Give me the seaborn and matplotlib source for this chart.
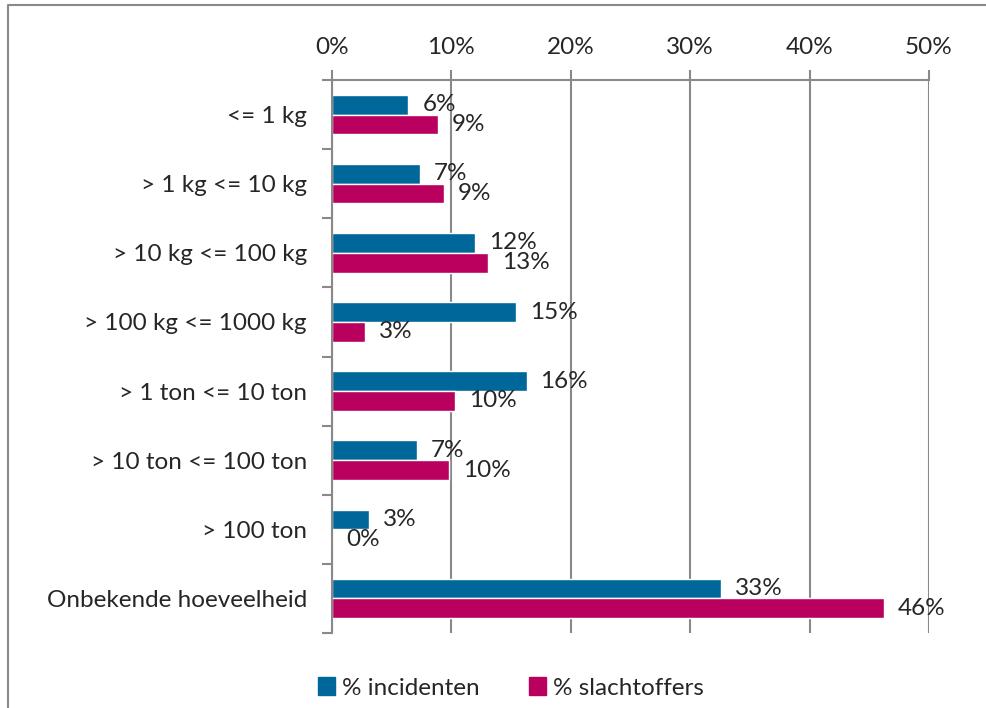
import matplotlib
matplotlib.use("Agg")
import matplotlib.pyplot as plt
from matplotlib.lines import Line2D
import pandas as pd
import seaborn as sns

# categories (top to bottom) and the two series, in percent
categories = ["<= 1 kg", "> 1 kg <= 10 kg", "> 10 kg <= 100 kg", "> 100 kg <= 1000 kg",
              "> 1 ton <= 10 ton", "> 10 ton <= 100 ton", "> 100 ton", "Onbekende hoeveelheid"]
incidenten = [6.4, 7.4, 12.0, 15.4, 16.3, 7.1, 3.1, 32.6]
slachtoffers = [8.9, 9.4, 13.1, 2.8, 10.3, 9.8, 0.0, 46.2]
series = ["% incidenten", "% slachtoffers"]
xticks = [0, 10, 20, 30, 40, 50]
xtick_labels = ["0%", "10%", "20%", "30%", "40%", "50%"]

data = pd.DataFrame({
    "categorie": categories * 2,
    "waarde": incidenten + slachtoffers,
    "reeks": [series[0]] * len(categories) + [series[1]] * len(categories),
})

sns.set_style("white")
plt.rcParams["font.family"] = ["Lato", "DejaVu Sans"]
fs = 17.5

fig = plt.figure(figsize=(9.87, 7.08), dpi=100)
ax = fig.add_axes([332 / 987, 1 - 633 / 708, (929 - 332) / 987, (633 - 80) / 708])

grey = "#898989"
sns.barplot(data=data, x="waarde", y="categorie", hue="reeks", orient="h",
            palette={series[0]: "#00679A", series[1]: "#BA005E"},
            width=0.57, ax=ax, legend=False, saturation=1)

# data labels, rounded
for cont, vals in zip(ax.containers, [incidenten, slachtoffers]):
    ax.bar_label(cont, labels=[f"{v:.0f}%" for v in vals], padding=10, fontsize=fs)

ax.set_xlim(0, 50)
ax.set_ylim(7.5, -0.5)
ax.set_xticks(xticks)
ax.set_xticklabels(xtick_labels, fontsize=fs)
ax.xaxis.tick_top()
ax.tick_params(axis="x", top=True, bottom=False, length=7, width=1.5, color=grey, pad=9)
ax.set_yticks(range(len(categories)))
ax.set_yticklabels(categories, fontsize=fs)
ax.set_yticks([i - 0.5 for i in range(len(categories) + 1)], minor=True)
ax.tick_params(axis="y", which="major", length=0, pad=18)
ax.tick_params(axis="y", which="minor", left=True, length=7, width=1.5, color=grey)
ax.grid(axis="x", color=grey, linewidth=1.5)
ax.set_axisbelow(True)
ax.set_xlabel("")
ax.set_ylabel("")
for side in ["bottom", "right"]:
    ax.spines[side].set_visible(False)
for side in ["top", "left"]:
    ax.spines[side].set_color(grey)
    ax.spines[side].set_linewidth(1.5)

handles = [plt.Rectangle((0, 0), 1, 1, color=c) for c in ["#00679A", "#BA005E"]]
fig.legend(handles, series, loc="center", bbox_to_anchor=(511 / 987, 1 - 688 / 708),
           ncol=2, frameon=False, fontsize=fs, handlelength=0.7, handleheight=0.7,
           handletextpad=0.3, columnspacing=2.0)

# outer chart frame (left and top edges visible)
fig.add_artist(Line2D([8 / 987, 8 / 987, 1.0], [0.0, 1 - 5 / 708, 1 - 5 / 708],
                      transform=fig.transFigure, color=grey, linewidth=1.5))

fig.savefig("out.png", dpi=100)
